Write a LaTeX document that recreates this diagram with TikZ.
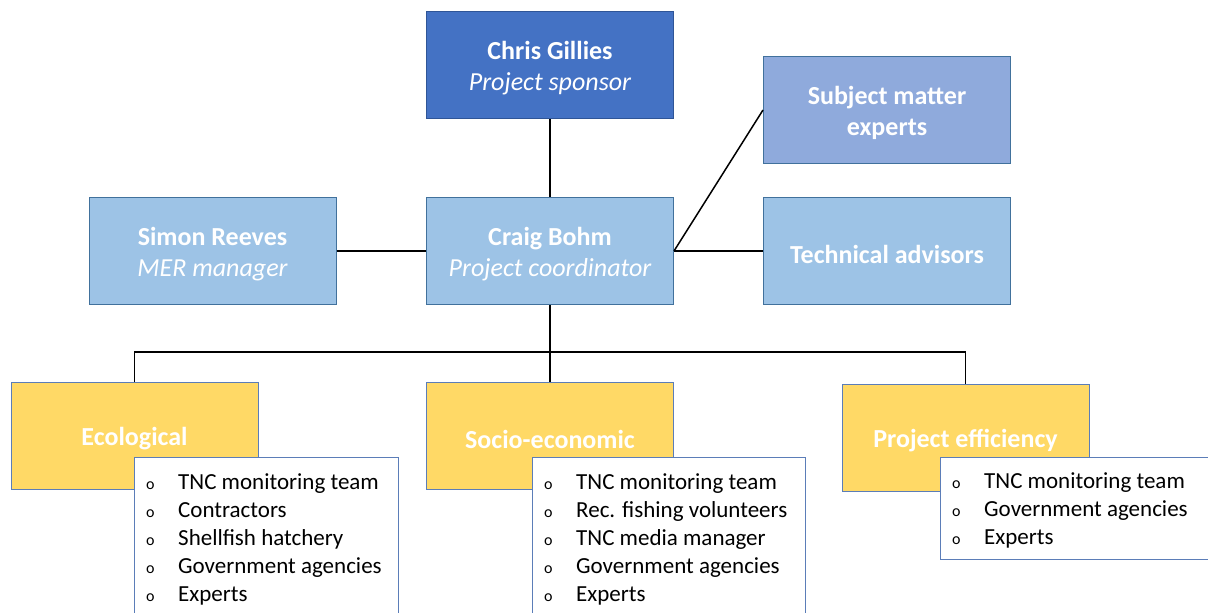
\documentclass[tikz,border=0pt]{standalone}
\usepackage{fontspec}
\setmainfont{Carlito}
\definecolor{dblue}{HTML}{4472C4}
\definecolor{dborder}{HTML}{2F5597}
\definecolor{mblue}{HTML}{8FAADC}
\definecolor{lblue}{HTML}{9DC3E6}
\definecolor{lborder}{HTML}{41719C}
\definecolor{gold}{HTML}{FFD966}
\definecolor{lstborder}{HTML}{5B7DB8}
\newcommand{\bul}{{\fontsize{16}{28}\selectfont o}}
\begin{document}
\begin{tikzpicture}[x=1pt,y=-1pt,
  box/.style={draw=lborder,line width=1pt,minimum width=247pt,minimum height=107pt,inner sep=0pt},
  boxtext/.style={inner sep=0pt,yshift=-3pt,text=white,align=center,font=\fontsize{26}{31}\selectfont\bfseries},
  topbox/.style={box,fill=dblue,draw=dborder},
  midbox/.style={box,fill=mblue,draw=lborder},
  lbox/.style={box,fill=lblue},
  ybox/.style={box,fill=gold,draw=lstborder},
  listbox/.style={draw=lstborder,fill=white,line width=1pt},
  listtxt/.style={anchor=north west,inner sep=0pt,align=left,text=black,font=\fontsize{23}{28}\selectfont},
  conn/.style={line width=1.5pt,black}]
\useasboundingbox (0,0) rectangle (1208,613);
\clip (0,0) rectangle (1208,613);
\fill[white] (0,0) rectangle (1208,613);

\node[topbox] (chris) at (550,65) {};
\node[midbox] (sme) at (887,110) {};
\node[lbox] (simon) at (212.5,251) {};
\node[lbox] (craig) at (550,251) {};
\node[lbox] (tech) at (887,251) {};
\node[ybox] (eco) at (134.5,436) {};
\node[ybox] (soc) at (550,436) {};
\node[ybox] (eff) at (965.5,437.5) {};

\node[boxtext] (chris-t) at (chris.center) {Chris Gillies\\ \mdseries\itshape Project sponsor};
\node[boxtext] (sme-t) at (sme.center) {Subject matter\\experts};
\node[boxtext] (simon-t) at (simon.center) {Simon Reeves\\ \mdseries\itshape MER manager};
\node[boxtext] (craig-t) at (craig.center) {Craig Bohm\\ \mdseries\itshape Project coordinator};
\node[boxtext] (tech-t) at (tech.center) {Technical advisors};
\node[boxtext] (eco-t) at (eco.center) {Ecological};
\node[boxtext] (soc-t) at (soc.center) {Socio-economic};
\node[boxtext] (eff-t) at (eff.center) {Project efficiency};

\coordinate (bus) at (551,352);
\draw[conn] (chris.south) -- (craig.north);
\draw[conn] (simon.east) -- (craig.east -| craig.west);
\draw[conn] (craig.east) -- (sme.west);
\draw[conn] (craig.east) -- (tech.west);
\draw[conn] (craig.south) -- (soc.north);
\draw[conn] (eco.north) -- (eco.north |- bus) -- (eff.north |- bus) -- (eff.north);

% list boxes
\draw[listbox] (134,457) rectangle (398,640);
\draw[listbox] (532,457) rectangle (805,640);
\draw[listbox] (940,457) rectangle (1230,559);

\node[listtxt] (l1) at (146,470) {%
\begin{tabular}{@{}p{32pt}@{}l@{}}
\bul & TNC monitoring team\\
\bul & Contractors\\
\bul & Shellfish hatchery\\
\bul & Government agencies\\
\bul & Experts
\end{tabular}};
\node[listtxt] (l2) at (544,470) {%
\begin{tabular}{@{}p{32pt}@{}l@{}}
\bul & TNC monitoring team\\
\bul & Rec. fishing volunteers\\
\bul & TNC media manager\\
\bul & Government agencies\\
\bul & Experts
\end{tabular}};
\node[listtxt] (l3) at (952,469) {%
\begin{tabular}{@{}p{32pt}@{}l@{}}
\bul & TNC monitoring team\\
\bul & Government agencies\\
\bul & Experts
\end{tabular}};
\end{tikzpicture}
\end{document}
